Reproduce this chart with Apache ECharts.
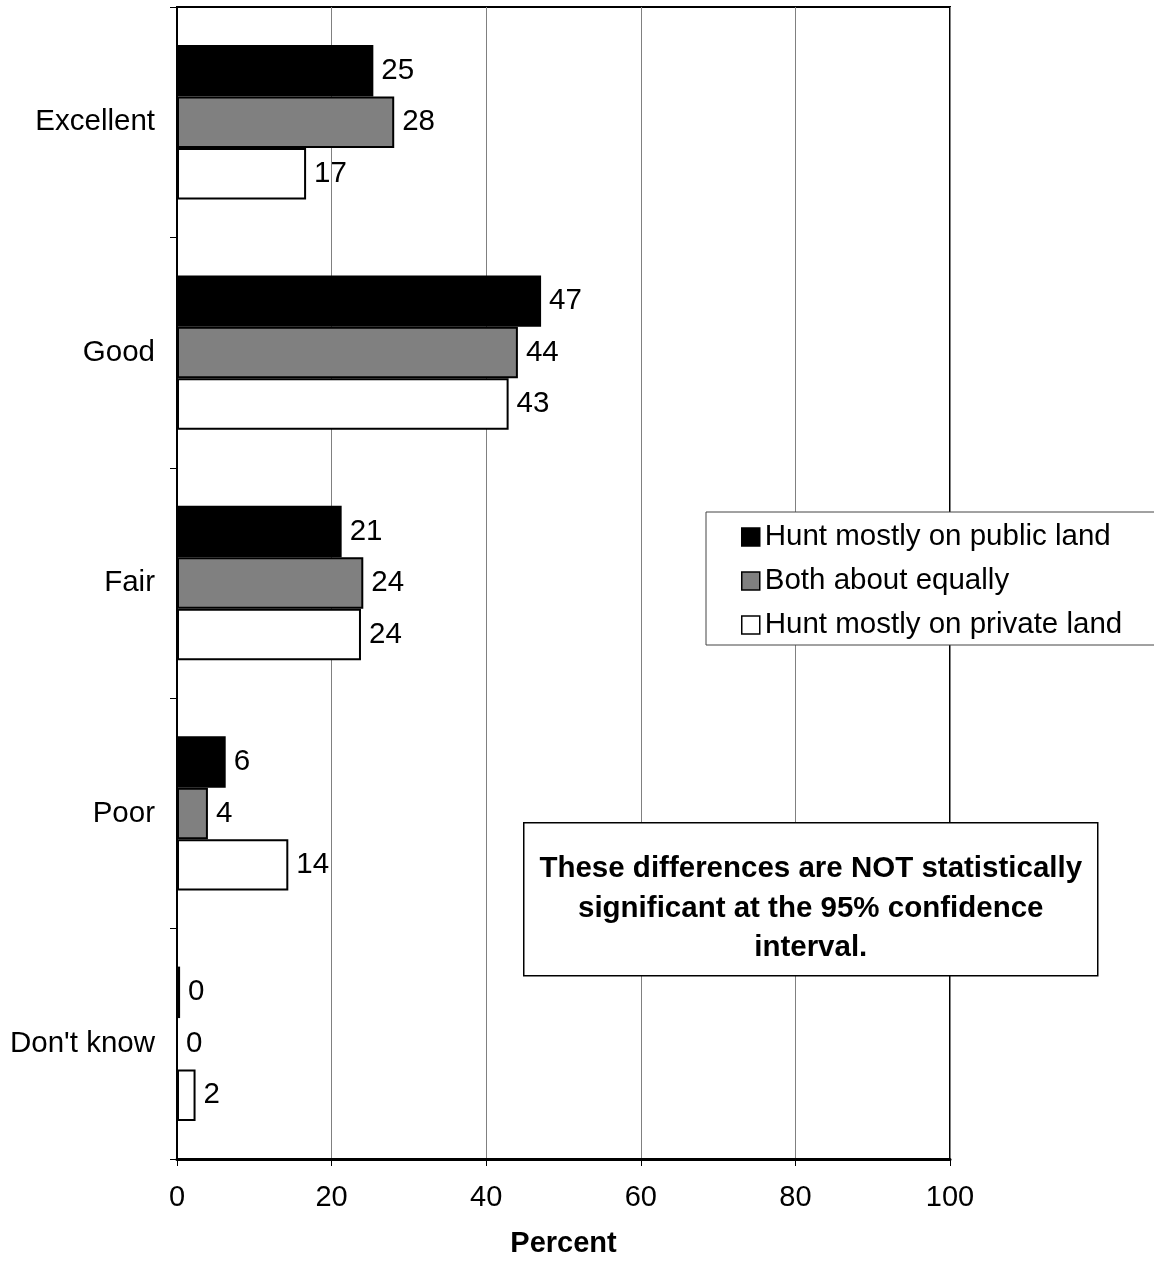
<!DOCTYPE html>
<html>
<head>
<meta charset="utf-8">
<script src="https://cdn.jsdelivr.net/npm/echarts@6/dist/echarts.min.js"></script>
<style>
  html, body { margin: 0; padding: 0; background: #fff; }
  #main { width: 1154px; height: 1268px; }
</style>
</head>
<body>
<div id="main"></div>
<script>
"use strict";

var categories = ['Excellent', 'Good', 'Fair', 'Poor', "Don't know"];
var publicLand = [25.4, 47.1, 21.3, 6.3, 0.4];
var bothEqual = [28.1, 44.1, 24.1, 4.0, 0];
var privateLand = [16.7, 42.9, 23.8, 14.4, 2.4];
var seriesNames = ['Hunt mostly on public land', 'Both about equally', 'Hunt mostly on private land'];
var xTicks = [0, 20, 40, 60, 80, 100];

var font = 'Liberation Sans, Arial, sans-serif';
var fs = 29.5;
var myChart = echarts.init(document.getElementById('main'));

var labelStyle = {
    show: true,
    position: 'right',
    distance: 8,
    fontFamily: font,
    fontSize: fs,
    color: '#000',
    formatter: function (p) { return Math.round(p.value); }
};

function makeSeries(name, data, fill) {
    return {
        name: name,
        type: 'bar',
        data: data,
        barGap: '0%',
        barCategoryGap: '33%',
        itemStyle: { color: fill, borderColor: '#000', borderWidth: 2 },
        label: labelStyle,
        emphasis: { disabled: true }
    };
}

var option = {
    animation: false,
    backgroundColor: '#fff',
    grid: {
        left: 177, right: 204, top: 7, bottom: 109,
        show: true, borderColor: '#000', borderWidth: 2, backgroundColor: 'transparent'
    },
    legend: {
        orient: 'vertical',
        left: 706,
        top: 512,
        padding: [9, 60, 4, 35],
        itemWidth: 18,
        itemHeight: 18,
        itemGap: 12,
        backgroundColor: '#fff',
        borderColor: '#444',
        borderWidth: 1,
        icon: 'rect',
        itemStyle: { borderColor: '#000', borderWidth: 1.5 },
        textStyle: { fontFamily: font, fontSize: fs, color: '#000', lineHeight: 32 },
        data: seriesNames
    },
    xAxis: {
        type: 'value',
        min: 0, max: 100, interval: 20,
        name: 'Percent',
        nameLocation: 'middle',
        nameGap: 70,
        nameTextStyle: { fontFamily: font, fontSize: 29, fontWeight: 'bold', color: '#000' },
        axisLine: { show: true, lineStyle: { color: '#000', width: 3 } },
        axisTick: { show: true, length: 7, lineStyle: { color: '#000' } },
        axisLabel: {
            fontFamily: font, fontSize: 29, color: '#000', margin: 24,
            formatter: function (v) { return xTicks.indexOf(v) >= 0 ? String(v) : ''; }
        },
        splitLine: { show: true, lineStyle: { color: '#808080', width: 1 } }
    },
    yAxis: {
        type: 'category',
        data: categories,
        inverse: true,
        axisLine: { show: true, lineStyle: { color: '#000', width: 2 } },
        axisTick: { show: true, length: 7, lineStyle: { color: '#000' } },
        axisLabel: { fontFamily: font, fontSize: fs, color: '#000', margin: 22 }
    },
    series: [
        makeSeries(seriesNames[0], publicLand, '#000'),
        makeSeries(seriesNames[1], bothEqual, '#808080'),
        makeSeries(seriesNames[2], privateLand, '#fff')
    ],
    graphic: [{
        type: 'group',
        left: 523,
        top: 822,
        z: 100,
        children: [{
            type: 'rect',
            z: 100,
            shape: { x: 0, y: 0, width: 574, height: 153 },
            style: { fill: '#fff', stroke: '#000', lineWidth: 1.5 }
        }, {
            type: 'text',
            z: 101,
            x: 287,
            y: 86,
            style: {
                text: 'These differences are NOT statistically\nsignificant at the 95% confidence\ninterval.',
                fontFamily: font,
                fontSize: fs,
                fontWeight: 'bold',
                lineHeight: 39.5,
                fill: '#000',
                align: 'center',
                verticalAlign: 'middle'
            }
        }]
    }]
};
myChart.setOption(option);
</script>
</body>
</html>
